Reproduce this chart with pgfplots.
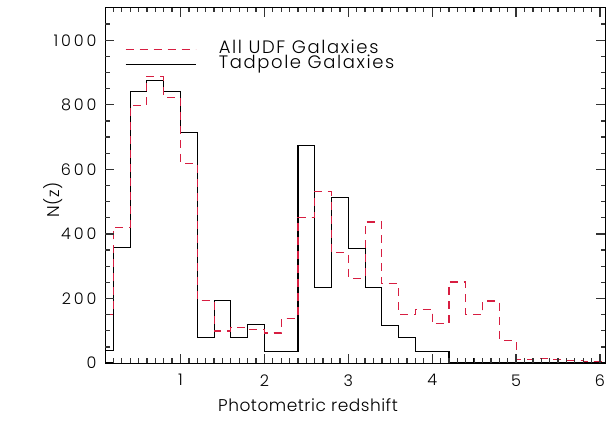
\documentclass[border=0pt]{standalone}
\usepackage{pgfplots}
\pgfplotsset{compat=1.18}
\usepackage{pgfplotstable}
\usepackage{fontspec}
\setmainfont{Poppins Light}[LetterSpace=3]
\newfontfamily\tickfont{Poppins Light}[LetterSpace=18]
\newfontfamily\legfont{Poppins Light}[LetterSpace=9]
\definecolor{udfred}{RGB}{215,30,65}
\pgfplotstableread{
x y
0.1 149
0.2 421
0.4 799
0.6 889
0.8 824
1.0 619
1.2 193
1.4 99
1.6 111
1.8 105
2.0 93
2.2 139
2.4 452
2.6 532
2.8 341
3.0 263
3.2 437
3.4 245
3.6 150
3.8 167
4.0 121
4.2 251
4.4 149
4.6 192
4.8 71
5.0 12
5.2 14
5.4 10
5.6 8
5.8 5
6.06 5
}\udf
\pgfplotstableread{
x y
0.1 40
0.2 358
0.4 840
0.6 875
0.8 840
1.0 715
1.2 78
1.4 195
1.6 78
1.8 120
2.0 35
2.2 35
2.4 675
2.6 235
2.8 514
3.0 356
3.2 235
3.4 115
3.6 78
3.8 35
4.0 35
4.2 0
6.06 0
}\tad
\begin{document}
\begin{tikzpicture}
\useasboundingbox (-105bp,-68bp) rectangle (501bp,363bp);
\begin{axis}[
  at={(0,0)}, anchor=south west,
  scale only axis, width=500bp, height=355bp,
  xmin=0.1, xmax=6.06, ymin=0, ymax=1100,
  clip=false,
  xtick={1,2,3,4,5,6}, minor x tick num=9,
  ytick={0,200,400,600,800,1000}, minor y tick num=3,
  xtick pos=both, ytick pos=both, tick align=inside,
  major tick length=9bp, minor tick length=4.5bp,
  every tick/.style={black, line width=1.3bp},
  axis line style={line width=1bp},
  /pgf/number format/assume math mode=true,
  /pgf/number format/set thousands separator={},
  ticklabel style={font=\tickfont\fontsize{16bp}{18bp}\selectfont},
  label style={font=\fontsize{17bp}{19bp}\selectfont},
  xticklabel style={yshift=-8bp},
  yticklabel style={xshift=-5bp},
  xlabel={Photometric redshift},
  ylabel={N(z)},
  xlabel style={at={(ticklabel cs:0.406)}, anchor=north, yshift=-6bp},
  ylabel style={at={(ticklabel cs:0.46)}, anchor=south, yshift=-16bp},
  legend style={draw=none, fill=none, at={(0.034,0.91)}, anchor=north west,
    font=\legfont\fontsize{18bp}{18bp}\selectfont, row sep=0bp,
    nodes={inner sep=0.5bp, text height=11bp, text depth=3bp}},
  legend cell align=left,
  legend image code/.code={\draw[#1] (0bp,0bp) -- (70bp,0bp);},
]
\addplot[const plot, udfred, line width=1.1bp, dash pattern=on 8bp off 6bp] table {\udf};
\addlegendentry{\hspace{22bp}All UDF Galaxies}
\addplot[const plot, black, line width=1.1bp] table {\tad};
\addlegendentry{\hspace{22bp}Tadpole Galaxies}
\addplot[const plot, udfred, line width=1.1bp, dash pattern=on 8bp off 6bp, forget plot] table {\udf};
\pgfplotsinvokeforeach{0.2,0.3,...,6.05}{
  \draw[black!80, line width=1.3bp] (axis cs:#1,0) -- ([yshift=4.5bp]axis cs:#1,0);
  \draw[black!80, line width=1.3bp] (axis cs:#1,1100) -- ([yshift=-4.5bp]axis cs:#1,1100);
}
\pgfplotsinvokeforeach{1,2,3,4,5,6}{
  \draw[black!80, line width=1.3bp] (axis cs:#1,0) -- ([yshift=9bp]axis cs:#1,0);
  \draw[black!80, line width=1.3bp] (axis cs:#1,1100) -- ([yshift=-9bp]axis cs:#1,1100);
}
\pgfplotsinvokeforeach{50,100,...,1050}{
  \draw[black!80, line width=1.3bp] (axis cs:0.1,#1) -- ([xshift=4.5bp]axis cs:0.1,#1);
  \draw[black!80, line width=1.3bp] (axis cs:6.06,#1) -- ([xshift=-4.5bp]axis cs:6.06,#1);
}
\pgfplotsinvokeforeach{200,400,600,800,1000}{
  \draw[black!80, line width=1.3bp] (axis cs:0.1,#1) -- ([xshift=9bp]axis cs:0.1,#1);
  \draw[black!80, line width=1.3bp] (axis cs:6.06,#1) -- ([xshift=-9bp]axis cs:6.06,#1);
}
\end{axis}
\end{tikzpicture}
\end{document}
